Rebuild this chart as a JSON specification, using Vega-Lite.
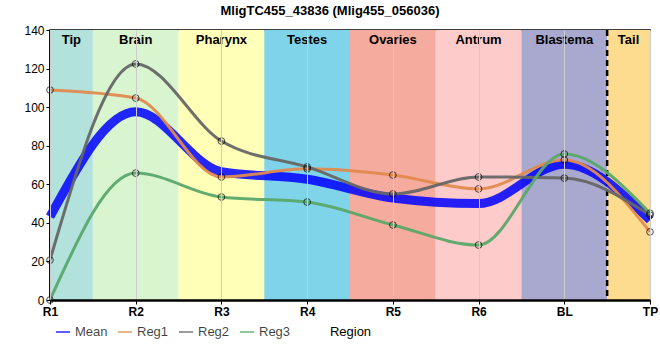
{
  "$schema": "https://vega.github.io/schema/vega-lite/v6.json",
  "width": 600,
  "height": 270,
  "autosize": {"type": "none"},
  "padding": {"left": 50, "top": 30, "right": 10, "bottom": 60},
  "background": "white",
  "title": {"text": "MligTC455_43836 (Mlig455_056036)", "font": "Liberation Sans", "fontSize": 13, "fontWeight": "bold", "color": "black", "offset": 6, "dx": -20},
  "config": {
    "view": {"stroke": "black", "strokeWidth": 1.5},
    "font": "Liberation Sans",
    "axisY": {"title": "Counts per million", "titleFontSize": 13, "titleFontWeight": "normal", "titleColor": "black", "titlePadding": 6, "labelFontSize": 12, "labelColor": "black", "domainColor": "black", "domainWidth": 2.5, "tickColor": "black", "tickSize": 4, "gridColor": "#cccccc", "gridWidth": 1, "zindex": 1, "labelOverlap": false, "labelSeparation": 0}
  },
  "datasets": {
    "bands": [
      {"start": 0, "end": 0.5, "mid": 0.25, "label": "Tip", "color": "#b3e1dc"},
      {"start": 0.5, "end": 1.5, "mid": 1, "label": "Brain", "color": "#d8f5d0"},
      {"start": 1.5, "end": 2.5, "mid": 2, "label": "Pharynx", "color": "#ffffb8"},
      {"start": 2.5, "end": 3.5, "mid": 3, "label": "Testes", "color": "#7fd4ea"},
      {"start": 3.5, "end": 4.5, "mid": 4, "label": "Ovaries", "color": "#f5ab9d"},
      {"start": 4.5, "end": 5.5, "mid": 5, "label": "Antrum", "color": "#fecbcb"},
      {"start": 5.5, "end": 6.5, "mid": 6, "label": "Blastema", "color": "#a9a8cf"},
      {"start": 6.5, "end": 7, "mid": 6.75, "label": "Tail", "color": "#fddc8f"}
    ],
    "mean": [
      {"pos": 0, "region": "R1", "series": "Mean", "value": 43.2},
      {"pos": 1, "region": "R2", "series": "Mean", "value": 97.6},
      {"pos": 2, "region": "R3", "series": "Mean", "value": 66.5},
      {"pos": 3, "region": "R4", "series": "Mean", "value": 62.6},
      {"pos": 4, "region": "R5", "series": "Mean", "value": 52.9},
      {"pos": 5, "region": "R6", "series": "Mean", "value": 50.0},
      {"pos": 6, "region": "BL", "series": "Mean", "value": 70.4},
      {"pos": 7, "region": "TP", "series": "Mean", "value": 41.4}
    ],
    "reps": [
      {"pos": 0, "region": "R1", "series": "Reg1", "value": 108.9},
      {"pos": 1, "region": "R2", "series": "Reg1", "value": 104.7},
      {"pos": 2, "region": "R3", "series": "Reg1", "value": 63.8},
      {"pos": 3, "region": "R4", "series": "Reg1", "value": 68.0},
      {"pos": 4, "region": "R5", "series": "Reg1", "value": 64.8},
      {"pos": 5, "region": "R6", "series": "Reg1", "value": 57.6},
      {"pos": 6, "region": "BL", "series": "Reg1", "value": 72.6},
      {"pos": 7, "region": "TP", "series": "Reg1", "value": 35.3},
      {"pos": 0, "region": "R1", "series": "Reg2", "value": 20.7},
      {"pos": 1, "region": "R2", "series": "Reg2", "value": 122.4},
      {"pos": 2, "region": "R3", "series": "Reg2", "value": 82.4},
      {"pos": 3, "region": "R4", "series": "Reg2", "value": 69.0},
      {"pos": 4, "region": "R5", "series": "Reg2", "value": 55.0},
      {"pos": 5, "region": "R6", "series": "Reg2", "value": 63.8},
      {"pos": 6, "region": "BL", "series": "Reg2", "value": 63.2},
      {"pos": 7, "region": "TP", "series": "Reg2", "value": 44.0},
      {"pos": 0, "region": "R1", "series": "Reg3", "value": 0},
      {"pos": 1, "region": "R2", "series": "Reg3", "value": 65.8},
      {"pos": 2, "region": "R3", "series": "Reg3", "value": 53.4},
      {"pos": 3, "region": "R4", "series": "Reg3", "value": 50.8},
      {"pos": 4, "region": "R5", "series": "Reg3", "value": 38.9},
      {"pos": 5, "region": "R6", "series": "Reg3", "value": 28.5},
      {"pos": 6, "region": "BL", "series": "Reg3", "value": 75.7},
      {"pos": 7, "region": "TP", "series": "Reg3", "value": 45.0}
    ],
    "divider": [{"pos": 6.5}]
  },
  "layer": [
    {
      "data": {"name": "bands"},
      "mark": {"type": "rect"},
      "encoding": {
        "x": {"field": "start", "type": "quantitative", "scale": {"domain": [0, 7], "nice": false, "zero": false},
          "axis": {"values": [0, 1, 2, 3, 4, 5, 6, 7], "labelExpr": "['R1','R2','R3','R4','R5','R6','BL','TP'][datum.value]", "title": "Region", "titleFontSize": 13, "titleFontWeight": "normal", "titleColor": "black", "titlePadding": 8, "labelFontSize": 12, "labelFontWeight": "bold", "labelColor": "black", "domainColor": "black", "domainWidth": 2.5, "tickColor": "black", "tickSize": 4, "gridColor": "#cccccc", "gridWidth": 1, "zindex": 1, "labelFlush": false, "labelOverlap": false}},
        "x2": {"field": "end"},
        "fill": {"field": "color", "type": "nominal", "scale": null}
      }
    },
    {
      "data": {"name": "bands"},
      "mark": {"type": "text", "baseline": "top", "dy": 4, "fontSize": 13, "fontWeight": "bold", "color": "black"},
      "encoding": {
        "x": {"field": "mid", "type": "quantitative"},
        "y": {"datum": 140, "type": "quantitative", "scale": {"domain": [0, 140], "nice": false}, "axis": {"values": [0, 20, 40, 60, 80, 100, 120, 140]}},
        "text": {"field": "label"}
      }
    },
    {
      "data": {"name": "divider"},
      "mark": {"type": "rule", "color": "black", "strokeWidth": 2.5, "strokeDash": [6, 4]},
      "encoding": {"x": {"field": "pos", "type": "quantitative"}}
    },
    {
      "data": {"name": "mean"},
      "mark": {"type": "line", "interpolate": "monotone", "opacity": 0.85, "strokeWidth": 9},
      "encoding": {
        "x": {"field": "pos", "type": "quantitative"},
        "y": {"field": "value", "type": "quantitative", "axis": {"values": [0, 20, 40, 60, 80, 100, 120, 140]}},
        "color": {"field": "series", "type": "nominal", "scale": {"domain": ["Mean", "Reg1", "Reg2", "Reg3"], "range": ["#0000ff", "#e08a4f", "#666666", "#5aa86a"]},
          "legend": {"orient": "none", "legendX": 5, "legendY": 294, "direction": "horizontal", "title": null, "symbolType": "stroke", "symbolSize": 200, "labelFontSize": 13, "columnPadding": 6, "labelOffset": 4, "labelOpacity": 0.75, "gridAlign": "none",
            "encode": {"labels": {"update": {"fill": {"scale": "color", "field": "value"}}}, "symbols": {"update": {"strokeWidth": {"signal": "datum.value === 'Mean' ? 7 : 3"}, "opacity": {"value": 0.85}}}}}}
      }
    },
    {
      "data": {"name": "reps"},
      "mark": {"type": "line", "interpolate": "monotone", "opacity": 0.95, "strokeWidth": 3},
      "encoding": {
        "x": {"field": "pos", "type": "quantitative"},
        "y": {"field": "value", "type": "quantitative", "axis": {"values": [0, 20, 40, 60, 80, 100, 120, 140]}},
        "color": {"field": "series", "type": "nominal"}
      }
    },
    {
      "data": {"name": "reps"},
      "mark": {"type": "point", "shape": "circle", "filled": false, "stroke": "black", "strokeWidth": 1, "size": 45, "clip": false},
      "encoding": {
        "x": {"field": "pos", "type": "quantitative"},
        "y": {"field": "value", "type": "quantitative", "axis": {"values": [0, 20, 40, 60, 80, 100, 120, 140]}}
      }
    }
  ]
}
